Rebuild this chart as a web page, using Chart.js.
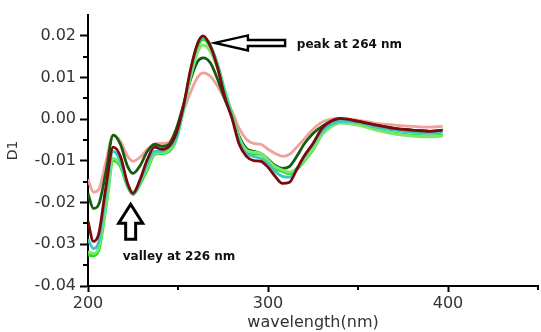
<!DOCTYPE html>
<html><head><meta charset="utf-8">
<script src="https://cdn.jsdelivr.net/npm/chart.js@4.4.1/dist/chart.umd.min.js"></script>
<style>html,body{margin:0;padding:0;background:#fff;}canvas{display:block;}</style>
</head><body>
<canvas id="c" width="541" height="332"></canvas>
<script>
// wavelength (nm)
const wavelengths = [200,203,206,210,214,218,222,225,229,233,237,241,245,249,253,257,261,264,268,272,276,280,284,288,292,296,300,304,308,312,316,320,325,330,335,340,350,360,370,380,390,397];

// first-derivative (D1) values for each sample
const sampleMaroon = [-0.0245,-0.0293,-0.0274,-0.0161,-0.0067,-0.0089,-0.0154,-0.0178,-0.0144,-0.0096,-0.0067,-0.0072,-0.0065,-0.0034,0.0031,0.0120,0.0183,0.0200,0.0175,0.0123,0.0053,0.0002,-0.0060,-0.0089,-0.0099,-0.0101,-0.0115,-0.0137,-0.0154,-0.0151,-0.0120,-0.0089,-0.0058,-0.0022,-0.0005,0.0002,-0.0005,-0.0014,-0.0022,-0.0026,-0.0029,-0.0026];
const sampleCyan = [-0.0288,-0.0310,-0.0293,-0.0178,-0.0077,-0.0101,-0.0159,-0.0180,-0.0149,-0.0106,-0.0077,-0.0077,-0.0067,-0.0046,0.0026,0.0115,0.0183,0.0197,0.0178,0.0130,0.0063,0.0007,-0.0053,-0.0082,-0.0089,-0.0094,-0.0106,-0.0125,-0.0137,-0.0139,-0.0120,-0.0091,-0.0060,-0.0029,-0.0012,-0.0005,-0.0007,-0.0019,-0.0026,-0.0031,-0.0034,-0.0031];
const sampleLightGreen = [-0.0318,-0.0322,-0.0306,-0.0204,-0.0094,-0.0108,-0.0156,-0.0175,-0.0150,-0.0116,-0.0082,-0.0080,-0.0074,-0.0046,0.0022,0.0102,0.0162,0.0178,0.0162,0.0122,0.0063,0.0010,-0.0046,-0.0074,-0.0079,-0.0082,-0.0098,-0.0114,-0.0122,-0.0127,-0.0118,-0.0099,-0.0070,-0.0036,-0.0018,-0.0009,-0.0014,-0.0026,-0.0035,-0.0040,-0.0042,-0.0040];
const sampleLime = [-0.0325,-0.0327,-0.0313,-0.0209,-0.0099,-0.0113,-0.0161,-0.0180,-0.0154,-0.0120,-0.0084,-0.0082,-0.0077,-0.0048,0.0024,0.0111,0.0175,0.0192,0.0173,0.0130,0.0067,0.0012,-0.0048,-0.0077,-0.0082,-0.0084,-0.0101,-0.0118,-0.0125,-0.0130,-0.0120,-0.0101,-0.0072,-0.0036,-0.0017,-0.0007,-0.0012,-0.0024,-0.0034,-0.0038,-0.0041,-0.0038];
const sampleDarkGreen = [-0.0178,-0.0214,-0.0204,-0.0125,-0.0038,-0.0060,-0.0113,-0.0130,-0.0111,-0.0077,-0.0060,-0.0065,-0.0060,-0.0024,0.0034,0.0096,0.0139,0.0147,0.0135,0.0096,0.0048,0.0007,-0.0041,-0.0070,-0.0077,-0.0082,-0.0096,-0.0111,-0.0118,-0.0113,-0.0089,-0.0060,-0.0034,-0.0017,-0.0005,0.0000,-0.0005,-0.0014,-0.0022,-0.0026,-0.0029,-0.0026];
const samplePink = [-0.0144,-0.0175,-0.0168,-0.0101,-0.0038,-0.0053,-0.0089,-0.0101,-0.0091,-0.0072,-0.0060,-0.0058,-0.0055,-0.0024,0.0019,0.0065,0.0101,0.0111,0.0103,0.0079,0.0048,0.0019,-0.0022,-0.0048,-0.0058,-0.0060,-0.0072,-0.0082,-0.0089,-0.0084,-0.0067,-0.0048,-0.0024,-0.0007,0.0000,0.0002,-0.0002,-0.0010,-0.0014,-0.0017,-0.0019,-0.0017];

// axis ticks
const xTicks = [200,300,400];
const xMinorTicks = [250,350,450];
const yTicks = [-0.04,-0.03,-0.02,-0.01,0,0.01,0.02];
const yMinorTicks = [0.015,0.005,-0.005,-0.015,-0.025,-0.035];

// annotations (data units)
const peakLabel = 'peak at 264 nm';
const valleyLabel = 'valley at 226 nm';
const peakArrow = {tipX: 270.5, tipY: 0.0183, tailX: 309.5, textX: 316, textY: 0.0179};
const valleyArrow = {tipX: 223.7, tipY: -0.0204, tailY: -0.0288, textX: 219.3, textY: -0.0329};

const series = [
  {data: sampleMaroon, color: '#7d0a0a', width: 2.8},
  {data: sampleCyan, color: '#3cc6c8', width: 2.8},
  {data: sampleLightGreen, color: '#7be86a', width: 3},
  {data: sampleLime, color: '#1fe01f', width: 3.2},
  {data: sampleDarkGreen, color: '#145c14', width: 2.8},
  {data: samplePink, color: '#f2a09a', width: 2.8}
];

const datasets = series.map(s => ({
  data: wavelengths.map((w, i) => ({x: w, y: s.data[i]})),
  borderColor: s.color,
  borderWidth: s.width,
  pointRadius: 0,
  fill: false,
  cubicInterpolationMode: 'monotone'
}));

const extras = {
  id: 'extras',
  afterDatasetsDraw(chart) {
    const ctx = chart.ctx;
    const xs = chart.scales.x, ys = chart.scales.y;
    ctx.save();
    // minor ticks
    ctx.strokeStyle = '#000';
    ctx.lineWidth = 2;
    yMinorTicks.forEach(v => {
      const py = Math.round(ys.getPixelForValue(v));
      ctx.beginPath(); ctx.moveTo(xs.left, py); ctx.lineTo(xs.left - 5, py); ctx.stroke();
    });
    xMinorTicks.forEach(v => {
      const px = Math.round(xs.getPixelForValue(v));
      ctx.beginPath(); ctx.moveTo(px, ys.bottom); ctx.lineTo(px, ys.bottom + 4); ctx.stroke();
    });
    // peak arrow (pointing left)
    {
      const tx = xs.getPixelForValue(peakArrow.tipX), ty = ys.getPixelForValue(peakArrow.tipY);
      const ex = xs.getPixelForValue(peakArrow.tailX);
      const hl = 33, hh = 7.5, sh = 3;
      ctx.beginPath();
      ctx.moveTo(tx, ty);
      ctx.lineTo(tx + hl, ty - hh);
      ctx.lineTo(tx + hl, ty - sh);
      ctx.lineTo(ex, ty - sh);
      ctx.lineTo(ex, ty + sh);
      ctx.lineTo(tx + hl, ty + sh);
      ctx.lineTo(tx + hl, ty + hh);
      ctx.closePath();
      ctx.fillStyle = '#fff'; ctx.fill();
      ctx.lineWidth = 2.4; ctx.lineJoin = 'miter'; ctx.strokeStyle = '#000'; ctx.stroke();
    }
    // valley arrow (pointing up)
    {
      const tx = xs.getPixelForValue(valleyArrow.tipX), ty = ys.getPixelForValue(valleyArrow.tipY);
      const ey = ys.getPixelForValue(valleyArrow.tailY);
      const hl = 19, hh = 12, sh = 5;
      ctx.beginPath();
      ctx.moveTo(tx, ty);
      ctx.lineTo(tx + hh, ty + hl);
      ctx.lineTo(tx + sh, ty + hl);
      ctx.lineTo(tx + sh, ey);
      ctx.lineTo(tx - sh, ey);
      ctx.lineTo(tx - sh, ty + hl);
      ctx.lineTo(tx - hh, ty + hl);
      ctx.closePath();
      ctx.fillStyle = '#fff'; ctx.fill();
      ctx.lineWidth = 3; ctx.strokeStyle = '#000'; ctx.stroke();
    }
    // labels
    ctx.fillStyle = '#111';
    ctx.font = 'bold 12px "DejaVu Sans"';
    ctx.textAlign = 'left';
    ctx.textBaseline = 'middle';
    ctx.fillText(peakLabel, xs.getPixelForValue(peakArrow.textX), ys.getPixelForValue(peakArrow.textY));
    ctx.fillText(valleyLabel, xs.getPixelForValue(valleyArrow.textX), ys.getPixelForValue(valleyArrow.textY));
    ctx.restore();
  }
};

new Chart(document.getElementById('c'), {
  type: 'line',
  data: {datasets},
  plugins: [extras],
  options: {
    responsive: false,
    animation: false,
    devicePixelRatio: 1,
    layout: {padding: {top: 15, right: 3, left: 0, bottom: 0}},
    plugins: {legend: {display: false}, tooltip: {enabled: false}},
    scales: {
      x: {
        type: 'linear',
        min: 200, max: 450,
        afterBuildTicks: s => { s.ticks = xTicks.map(v => ({value: v})); },
        afterFit: s => { s.height = 46; },
        grid: {drawOnChartArea: false, drawTicks: true, tickLength: 6, tickWidth: 2, tickColor: '#000'},
        border: {display: true, color: '#000', width: 2},
        ticks: {color: '#333', padding: 2, font: {family: '"DejaVu Sans"', size: 16}, maxRotation: 0},
        title: {display: true, text: 'wavelength(nm)', color: '#333', font: {family: '"DejaVu Sans"', size: 16}, padding: {top: 0, bottom: 0}}
      },
      y: {
        min: -0.04, max: 0.025,
        afterBuildTicks: s => { s.ticks = yTicks.map(v => ({value: v})); },
        afterFit: s => { s.width = 88; },
        grid: {drawOnChartArea: false, drawTicks: true, tickLength: 8, tickWidth: 2, tickColor: '#000'},
        border: {display: true, color: '#000', width: 2},
        ticks: {color: '#333', padding: 4, font: {family: '"DejaVu Sans"', size: 16}, callback: v => Number(v).toFixed(2)},
        title: {display: true, text: 'D1', color: '#333', font: {family: '"DejaVu Sans"', size: 14}, padding: {top: 5, bottom: 0}}
      }
    }
  }
});
</script>
</body></html>
